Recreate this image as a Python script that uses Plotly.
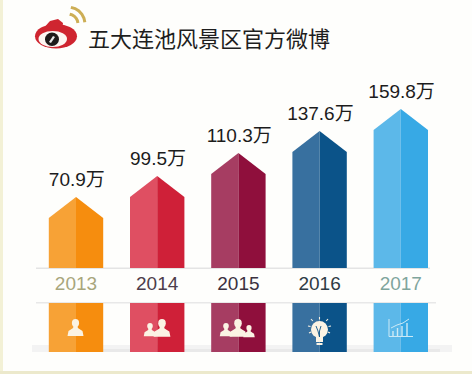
import plotly.graph_objects as go

years = ["2013", "2014", "2015", "2016", "2017"]
value_labels = ["70.9万", "99.5万", "110.3万", "137.6万", "159.8万"]
# bar heights as drawn in the picture (the original art is not strictly proportional)
drawn_heights = [71, 92, 115, 137, 159]
left_colors = ["#f7a236", "#df4f62", "#a63d62", "#38709f", "#5cb8e9"]
right_colors = ["#f68d0e", "#cf2038", "#8f0f3c", "#0b5389", "#37a9e5"]
year_colors = ["#a8a67c", "#4d3d4b", "#3b3140", "#2e3b45", "#7fa59c"]
title_text = "五大连池风景区官方微博"

W, H = 472, 374
BASE = 268
STEP, X0, HALF, ROOF = 81.2, 76, 27.2, 21
STRIP_TOP, STRIP_BOTTOM = -35, -84
ICON = "#fbf3e4"

fig = go.Figure()


def poly(xs, ys, color):
    fig.add_trace(go.Scatter(x=xs, y=ys, mode="lines", fill="toself", fillcolor=color,
                             line=dict(width=0), hoverinfo="skip", showlegend=False))


hw = HALF / STEP
for i, h in enumerate(drawn_heights):
    poly([i - hw, i, i, i - hw, i - hw], [0, 0, h, h - ROOF, 0], left_colors[i])
    poly([i, i + hw, i + hw, i, i], [0, 0, h - ROOF, h, 0], right_colors[i])
    poly([i - hw, i, i, i - hw, i - hw], [STRIP_TOP, STRIP_TOP, STRIP_BOTTOM, STRIP_BOTTOM, STRIP_TOP], left_colors[i])
    poly([i, i + hw, i + hw, i, i], [STRIP_TOP, STRIP_TOP, STRIP_BOTTOM, STRIP_BOTTOM, STRIP_TOP], right_colors[i])

fig.add_trace(go.Scatter(x=[i + 0.01 for i in range(5)], y=[h + 16 for h in drawn_heights], mode="text",
                         text=value_labels, textposition="middle center",
                         textfont=dict(family="Liberation Sans, Noto Sans CJK SC", size=19, color="#1c1c1c"),
                         hoverinfo="skip", showlegend=False))
fig.add_trace(go.Scatter(x=list(range(5)), y=[-17] * 5, mode="text", text=years,
                         textposition="middle center",
                         textfont=dict(family="Liberation Sans", size=19, color=year_colors),
                         hoverinfo="skip", showlegend=False))

shapes = []


def px(x):
    return x / W


def py(y):
    return 1 - y / H


def rect(x0, y0, x1, y1, color, layer="above"):
    shapes.append(dict(type="rect", xref="paper", yref="paper", x0=px(x0), x1=px(x1), y0=py(y0), y1=py(y1),
                       fillcolor=color, line=dict(width=0), layer=layer))


def ell(x0, y0, x1, y1, color, layer="above"):
    shapes.append(dict(type="circle", xref="paper", yref="paper", x0=px(x0), x1=px(x1), y0=py(y0), y1=py(y1),
                       fillcolor=color, line=dict(width=0), layer=layer))


def path(pts, color=None, stroke=None, width=1.0, close=True):
    d = "M " + " L ".join(f"{px(x):.5f},{py(y):.5f}" for x, y in pts) + (" Z" if close else "")
    shapes.append(dict(type="path", xref="paper", yref="paper", path=d, fillcolor=color,
                       line=dict(width=width if stroke else 0, color=stroke), layer="above"))


# page edge and soft shadows
rect(0, 0, 3, H, "#f3f1d6", "below")
rect(0, 371, W, H, "#ece9cc", "below")
rect(36, 267.5, 430, 269, "#e4e4e4", "below")
rect(36, 302, 436, 303.5, "#e8e8e8", "below")
rect(32, 345, 452, 352, "#f3f3f3", "below")
rect(60, 349, 440, 352, "#e9e9e9", "below")

# weibo logo
ell(35, 24, 77, 48.5, "#cf2530")
path([(42, 30), (50, 21), (58, 19), (63, 23), (62, 30), (50, 36)], "#cf2530")
ell(38.5, 31, 67, 47, "#fdf6f2")
ell(45, 32.5, 59, 46, "#1e1a1a")
path([(49, 42), (53, 36), (55, 37), (51, 43)], "#e8e8e8")
for r, w in ((17, 3.0), (10, 3.0)):
    arc = [(68 + r * c, 24 - r * s) for c, s in
           ((0.17, 0.98), (0.42, 0.91), (0.64, 0.77), (0.82, 0.57), (0.94, 0.34), (0.99, 0.1))]
    path(arc, None, "#cdae55", w, close=False)


def person(cx, top, s, color=ICON):
    ell(cx - 3.6 * s, top, cx + 3.6 * s, top + 8 * s, color)
    path([(cx - 1.8 * s, top + 6 * s), (cx + 1.8 * s, top + 6 * s), (cx + 2.4 * s, top + 9 * s),
          (cx + 7 * s, top + 12 * s), (cx + 8 * s, top + 17 * s), (cx - 8 * s, top + 17 * s),
          (cx - 7 * s, top + 12 * s), (cx - 2.4 * s, top + 9 * s)], color)


# 2013 / 2014 / 2015 icons
person(75.5, 319, 1.0)
person(150, 323, 0.78)
person(162, 319, 1.05)
person(226, 323, 0.78)
person(249, 325, 0.72)
person(238, 319, 1.05)

# 2016 bulb
ell(311, 321, 328, 338, ICON)
rect(316, 336, 323, 342, ICON)
rect(316.5, 343, 322.5, 345, ICON)
path([(316, 326), (318, 331), (319.5, 337), (319.5, 331), (321, 326)], None, "#0b5389", 0.9, close=False)
for a, b in (((319.5, 317), (319.5, 319.5)), ((311, 319), (312.8, 321)), ((328, 319), (326.2, 321)),
             ((308, 326), (310.5, 326.5)), ((331, 326), (328.5, 326.5)), ((309, 333), (311, 332)),
             ((330, 333), (328, 332))):
    path([a, b], None, ICON, 1.1, close=False)

# 2017 chart icon
path([(389, 319), (389, 336.5), (413, 336.5)], None, "#cdeaf6", 1.0, close=False)
for x, top in ((393, 331), (397.5, 328), (402, 326), (407, 323)):
    path([(x, top), (x, 336)], None, "#cdeaf6", 1.4, close=False)
path([(391, 328), (397, 325), (403, 323), (409, 319)], None, "#cdeaf6", 1.0, close=False)

fig.update_layout(
    width=W, height=H, margin=dict(l=0, r=0, t=0, b=0),
    paper_bgcolor="#fefefc", plot_bgcolor="rgba(0,0,0,0)", showlegend=False,
    xaxis=dict(range=[-X0 / STEP, (W - X0) / STEP], visible=False, fixedrange=True),
    yaxis=dict(range=[BASE - H, BASE], visible=False, fixedrange=True),
    shapes=shapes,
    annotations=[dict(text=title_text, xref="paper", yref="paper", x=px(86), y=py(36.5),
                      xanchor="left", yanchor="middle", showarrow=False,
                      font=dict(family="Noto Sans CJK SC", size=22, color="#1e1e1e"))],
)

fig.write_html("out.html", config=dict(displayModeBar=False),
               post_script="document.body.style.margin='0';document.body.style.overflow='hidden';")
